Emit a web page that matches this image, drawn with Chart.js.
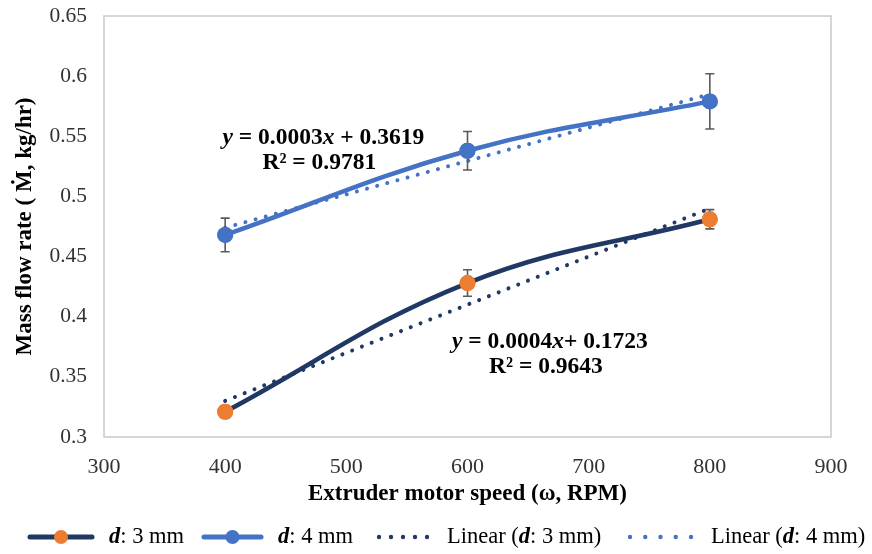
<!DOCTYPE html>
<html>
<head>
<meta charset="utf-8">
<script src="https://cdn.jsdelivr.net/npm/chart.js@4/dist/chart.umd.min.js"></script>
<style>
  html, body { margin: 0; padding: 0; background: #ffffff; }
  #wrap { width: 872px; height: 554px; }
</style>
</head>
<body>
<div id="wrap"><canvas id="c" width="872" height="554"></canvas></div>
<script>
// ---- data ----
const speeds = [400, 600, 800];                 // RPM
const flow3mm = [0.321, 0.428, 0.481];          // d: 3 mm
const flow4mm = [0.468, 0.538, 0.579];          // d: 4 mm
const err3mm = [0.005, 0.011, 0.008];
const err4mm = [0.014, 0.016, 0.023];
const trendSpeeds = [400, 800];
const trend3mm = [0.330, 0.490];                // Linear (d: 3 mm)
const trend4mm = [0.474, 0.585];                // Linear (d: 4 mm)
const xTickValues = [300, 400, 500, 600, 700, 800, 900];
const yTickValues = [0.3, 0.35, 0.4, 0.45, 0.5, 0.55, 0.6, 0.65];
const yTickLabels = ['0.3', '0.35', '0.4', '0.45', '0.5', '0.55', '0.6', '0.65'];
const legendNames = ['d: 3 mm', 'd: 4 mm', 'Linear (d: 3 mm)', 'Linear (d: 4 mm)'];
const eq3 = { eq: 'y = 0.0004x+ 0.1723', r2: 'R² = 0.9643', at: [668, 0.379] };
const eq4 = { eq: 'y = 0.0003x + 0.3619', r2: 'R² = 0.9781', at: [481, 0.5486] };

const NAVY = '#203864';
const BLUE = '#4472C4';
const ORANGE = '#ED7D31';
const SERIF = '"Liberation Serif", "Times New Roman", serif';

const pts = (xs, ys) => xs.map((x, i) => ({ x: x, y: ys[i] }));

// plot frame
const framePlugin = {
  id: 'frame',
  beforeDatasetsDraw(chart) {
    const a = chart.chartArea, ctx = chart.ctx;
    ctx.save();
    ctx.strokeStyle = '#c9c9c9';
    ctx.lineWidth = 1.5;
    ctx.strokeRect(a.left, a.top, a.right - a.left, a.bottom - a.top);
    ctx.restore();
  }
};

// error bars
const errorPlugin = {
  id: 'errbars',
  afterDatasetsDraw(chart) {
    const ctx = chart.ctx, xs = chart.scales.x, ys = chart.scales.y;
    const sets = [[flow3mm, err3mm], [flow4mm, err4mm]];
    ctx.save();
    ctx.strokeStyle = '#5a5a5a';
    ctx.lineWidth = 1.6;
    sets.forEach(([vals, errs]) => {
      speeds.forEach((s, i) => {
        const px = xs.getPixelForValue(s);
        const top = ys.getPixelForValue(vals[i] + errs[i]);
        const bot = ys.getPixelForValue(vals[i] - errs[i]);
        ctx.beginPath();
        ctx.moveTo(px, top); ctx.lineTo(px, bot);
        ctx.moveTo(px - 4.5, top); ctx.lineTo(px + 4.5, top);
        ctx.moveTo(px - 4.5, bot); ctx.lineTo(px + 4.5, bot);
        ctx.stroke();
      });
    });
    // redraw markers over the stems
    [[0, ORANGE], [1, BLUE]].forEach(([di, col]) => {
      const meta = chart.getDatasetMeta(di);
      meta.data.forEach(el => {
        ctx.beginPath();
        ctx.fillStyle = col;
        ctx.arc(el.x, el.y, 8, 0, Math.PI * 2);
        ctx.fill();
      });
    });
    ctx.restore();
  }
};

// draw a run of text segments [{t, f}] starting at x
function drawRuns(ctx, runs, x, y, align) {
  let total = 0;
  runs.forEach(r => { ctx.font = r.f; total += ctx.measureText(r.t).width; });
  let cx = align === 'center' ? x - total / 2 : x;
  runs.forEach(r => {
    ctx.font = r.f;
    ctx.fillText(r.t, cx, y);
    cx += ctx.measureText(r.t).width;
  });
  return total;
}

function eqRuns(str, size) {
  const B = 'bold ' + size + 'px ' + SERIF;
  const BI = 'italic bold ' + size + 'px ' + SERIF;
  const runs = [];
  for (const ch of str) {
    const f = (ch === 'x' || ch === 'y') ? BI : B;
    if (runs.length && runs[runs.length - 1].f === f) runs[runs.length - 1].t += ch;
    else runs.push({ t: ch, f: f });
  }
  return runs;
}

function labelRuns(str, size) {
  const R = size + 'px ' + SERIF;
  const BI = 'italic bold ' + size + 'px ' + SERIF;
  const runs = [];
  for (const ch of str) {
    const f = (ch === 'd') ? BI : R;
    if (runs.length && runs[runs.length - 1].f === f) runs[runs.length - 1].t += ch;
    else runs.push({ t: ch, f: f });
  }
  return runs;
}

// equations + legend
const textPlugin = {
  id: 'texts',
  afterDraw(chart) {
    const ctx = chart.ctx, xs = chart.scales.x, ys = chart.scales.y;
    ctx.save();
    ctx.fillStyle = '#000000';
    ctx.textBaseline = 'middle';
    [eq4, eq3].forEach(e => {
      const px = xs.getPixelForValue(e.at[0]);
      const py = ys.getPixelForValue(e.at[1]);
      drawRuns(ctx, eqRuns(e.eq, 23.5), px, py, 'center');
      drawRuns(ctx, eqRuns(e.r2, 23.5), px - 4, py + 25, 'center');
    });

    // legend
    const ly = 537;
    const items = [
      { x0: 30, x1: 92, type: 'solid', col: NAVY, mk: ORANGE, tx: 109 },
      { x0: 204, x1: 261, type: 'solid', col: BLUE, mk: BLUE, tx: 278 },
      { x0: 379, x1: 427, type: 'dot', col: NAVY, tx: 447 },
      { x0: 630, x1: 691, type: 'dot', col: BLUE, tx: 711 }
    ];
    items.forEach((it, i) => {
      ctx.save();
      ctx.strokeStyle = it.col;
      if (it.type === 'solid') {
        ctx.lineWidth = 5;
        ctx.lineCap = 'round';
        ctx.beginPath(); ctx.moveTo(it.x0, ly); ctx.lineTo(it.x1, ly); ctx.stroke();
        ctx.fillStyle = it.mk;
        ctx.beginPath(); ctx.arc((it.x0 + it.x1) / 2, ly, 7, 0, Math.PI * 2); ctx.fill();
      } else {
        ctx.fillStyle = it.col;
        const n = 5;
        for (let k = 0; k < n; k++) {
          const dx = it.x0 + (it.x1 - it.x0) * k / (n - 1);
          ctx.beginPath(); ctx.arc(dx, ly, 2.2, 0, Math.PI * 2); ctx.fill();
        }
      }
      ctx.restore();
      ctx.fillStyle = '#000000';
      drawRuns(ctx, labelRuns(legendNames[i], 22.5), it.tx, ly, 'left');
    });
    ctx.restore();
  }
};

new Chart(document.getElementById('c'), {
  type: 'scatter',
  data: {
    datasets: [
      {
        label: legendNames[0], data: pts(speeds, flow3mm), showLine: true,
        borderColor: NAVY, borderWidth: 4.5, tension: 0.4,
        pointRadius: 8, pointBackgroundColor: ORANGE, pointBorderWidth: 0,
        order: 2
      },
      {
        label: legendNames[1], data: pts(speeds, flow4mm), showLine: true,
        borderColor: BLUE, borderWidth: 4.5, tension: 0.4,
        pointRadius: 8, pointBackgroundColor: BLUE, pointBorderWidth: 0,
        order: 1
      },
      {
        label: legendNames[2], data: pts(trendSpeeds, trend3mm), showLine: true,
        borderColor: NAVY, borderWidth: 4, borderDash: [0.01, 10.5], borderCapStyle: 'round',
        pointRadius: 0, order: 4
      },
      {
        label: legendNames[3], data: pts(trendSpeeds, trend4mm), showLine: true,
        borderColor: BLUE, borderWidth: 4, borderDash: [0.01, 10.5], borderCapStyle: 'round',
        pointRadius: 0, order: 3
      }
    ]
  },
  options: {
    responsive: false,
    animation: false,
    layout: { padding: { top: 16, right: 41, left: 0, bottom: 46 } },
    plugins: {
      legend: { display: false },
      tooltip: { enabled: false }
    },
    scales: {
      x: {
        type: 'linear', min: 300, max: 900,
        grid: { display: false, drawTicks: false }, border: { display: false },
        afterBuildTicks: s => { s.ticks = xTickValues.map(v => ({ value: v })); },
        ticks: { color: '#333333', padding: 17, font: { family: SERIF, size: 22 } },
        title: {
          display: true, text: 'Extruder motor speed (ω, RPM)', color: '#000000',
          font: { family: SERIF, size: 23, weight: 'bold' }, padding: { top: 0, bottom: 0 }
        },
        afterFit: s => { s.height = 71; s.paddingLeft = 0; s.paddingRight = 0; }
      },
      y: {
        type: 'linear', min: 0.3, max: 0.65,
        grid: { display: false, drawTicks: false }, border: { display: false },
        afterBuildTicks: s => { s.ticks = yTickValues.map(v => ({ value: v })); },
        ticks: {
          color: '#333333', padding: 17, font: { family: SERIF, size: 21.5 },
          callback: (v, i) => yTickLabels[i]
        },
        title: {
          display: true, text: 'Mass flow rate ( Ṁ, kg/hr)', color: '#000000',
          font: { family: SERIF, size: 23, weight: 'bold' }, padding: { top: 11, bottom: 0 }
        },
        afterFit: s => { s.width = 104; s.paddingTop = 0; s.paddingBottom = 0; }
      }
    }
  },
  plugins: [framePlugin, errorPlugin, textPlugin]
});
</script>
</body>
</html>
